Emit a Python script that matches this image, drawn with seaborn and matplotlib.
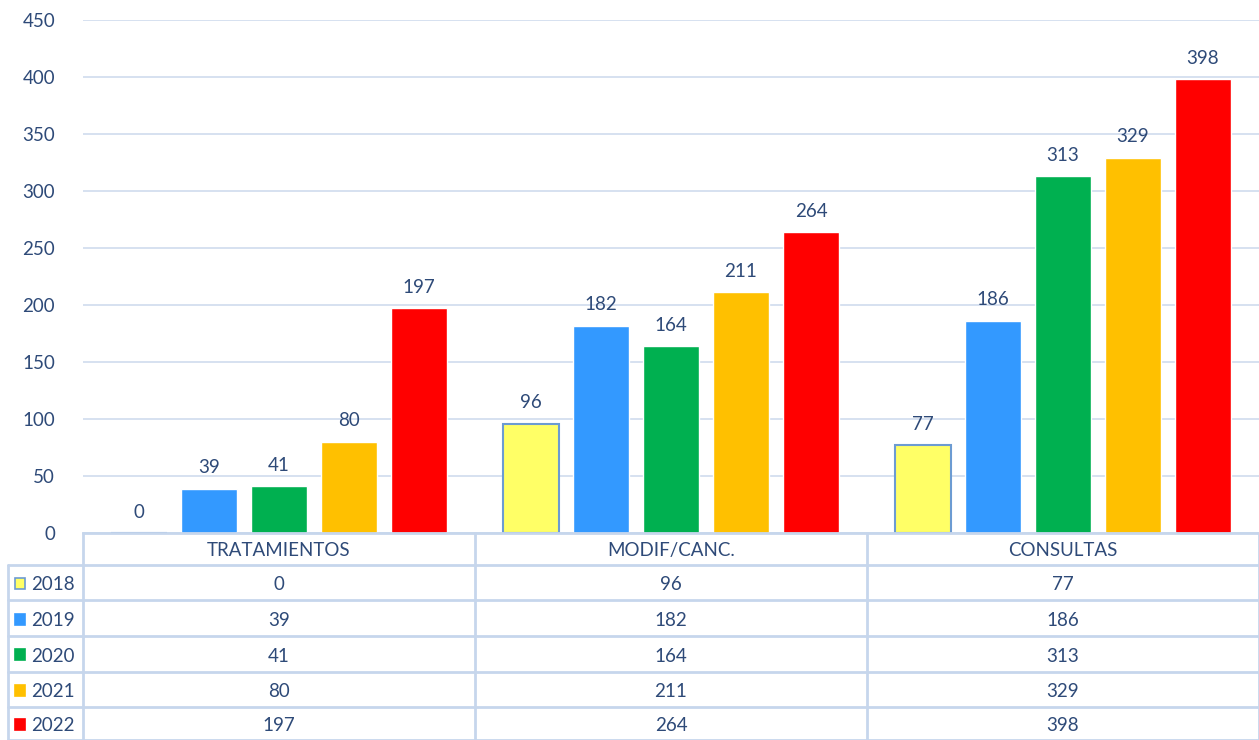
import pandas as pd
import seaborn as sns
import matplotlib.pyplot as plt
from matplotlib.patches import Rectangle

categories = ["TRATAMIENTOS", "MODIF/CANC.", "CONSULTAS"]
years = ["2018", "2019", "2020", "2021", "2022"]
v2018 = [0, 96, 77]
v2019 = [39, 182, 186]
v2020 = [41, 164, 313]
v2021 = [80, 211, 329]
v2022 = [197, 264, 398]
colors = ["#FFFF66", "#3399FF", "#00B050", "#FFC000", "#FF0000"]

series = [v2018, v2019, v2020, v2021, v2022]
rows = []
for y, vals in zip(years, series):
    for c, v in zip(categories, vals):
        rows.append({"cat": c, "year": y, "val": v})
df = pd.DataFrame(rows)

txt = "#2E4A78"
grid = "#CFDCEE"
fs = 13.5

sns.set_theme(style="white")
plt.rcParams["font.family"] = ["Lato", "DejaVu Sans"]

W, H = 1259, 740
fig = plt.figure(figsize=(W / 100, H / 100), dpi=100)
ax = fig.add_axes([83 / W, 1 - 533 / H, (W - 83) / W, (533 - 20) / H])

sns.barplot(data=df, x="cat", y="val", hue="year", palette=colors,
            order=categories, hue_order=years, width=0.893, gap=0.19,
            saturation=1, ax=ax, legend=False)

# yellow bars have a blue outline
for p in ax.patches[:3]:
    p.set_edgecolor("#6C9BD2")
    p.set_linewidth(1.5)

for cont in ax.containers:
    ax.bar_label(cont, padding=9, color=txt, fontsize=fs)

ax.set_ylim(0, 450)
ax.set_xlim(-0.5, 2.5)
ax.set_yticks(range(0, 451, 50))
ax.yaxis.grid(True, color=grid, linewidth=1.2)
ax.set_axisbelow(True)
ax.tick_params(axis="y", colors=txt, labelsize=fs, length=0, pad=20)
ax.set_xticks([])
ax.set_xlabel("")
ax.set_ylabel("")
for s in ax.spines.values():
    s.set_visible(False)

# data table below the chart, in pixel coordinates
tax = fig.add_axes([0, 0, 1, 1 - 533 / H + 0.002])
tax.set_xlim(0, W)
tax.set_ylim(740, 533)
tax.axis("off")
lc = "#C6D6EC"
col_x = [83, 475, 867, 1259]
row_y = [533, 566, 601, 637, 672, 707, 740]
tax.plot([83, W], [534, 534], color=lc, lw=2)
for y in row_y[1:]:
    tax.plot([8, W], [y, y], color=lc, lw=2)
for x in col_x:
    tax.plot([x, x], [533, 740], color=lc, lw=2)
tax.plot([8, 8], [566, 740], color=lc, lw=2)

for i, c in enumerate(categories):
    tax.text((col_x[i] + col_x[i + 1]) / 2, 550, c, ha="center", va="center_baseline",
             color=txt, fontsize=fs)
for r, (y, vals, col) in enumerate(zip(years, series, colors)):
    yc = (row_y[r + 1] + row_y[r + 2]) / 2 + 1
    ec = "#6C9BD2" if r == 0 else col
    tax.add_patch(Rectangle((15, yc - 5.5), 10, 11, facecolor=col, edgecolor=ec, lw=1.2))
    tax.text(31, yc, y, ha="left", va="center_baseline", color=txt, fontsize=fs)
    for i, v in enumerate(vals):
        tax.text((col_x[i] + col_x[i + 1]) / 2, yc, str(v), ha="center",
                 va="center_baseline", color=txt, fontsize=fs)

fig.savefig("out.png", dpi=100)
